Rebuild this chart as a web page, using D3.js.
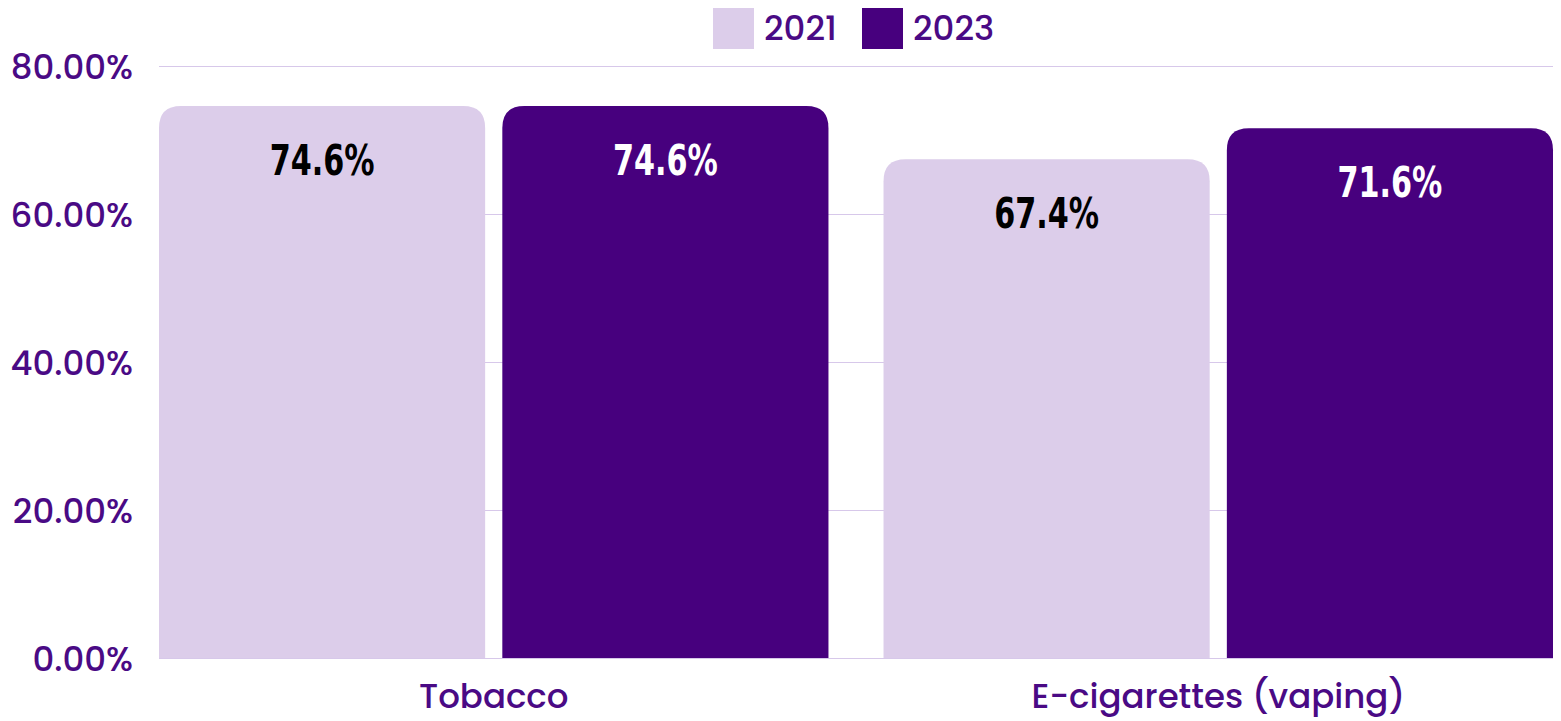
<!DOCTYPE html>
<html>
<head>
<meta charset="utf-8">
<script src="https://cdn.jsdelivr.net/npm/d3@7"></script>
<style>
  html, body { margin: 0; padding: 0; background: #ffffff; }
  svg { display: block; }
</style>
</head>
<body>
<svg id="chart" width="1561" height="721"></svg>
<script>
// Share of respondents, by product and survey year
const categories = ["Tobacco", "E-cigarettes (vaping)"];
const years = ["2021", "2023"];
const values2021 = [74.6, 67.4];
const values2023 = [74.6, 71.6];
const yTicks = [0, 20, 40, 60, 80];

const colors = { "2021": "#dccdea", "2023": "#47007e" };
const labelColors = { "2021": "#000000", "2023": "#ffffff" };
const textColor = "#4a0a85";
const gridColor = "#d7c8ea";
const uiFont = "Poppins, 'Noto Sans', sans-serif";

const W = 1561, H = 721;
const m = { left: 159, right: 8, top: 66, bottom: 63 };

const svg = d3.select("#chart");

const x0 = d3.scaleBand()
  .domain(categories)
  .range([m.left, W - m.right])
  .paddingInner(0.076)
  .paddingOuter(0);

const x1 = d3.scaleBand()
  .domain(years)
  .range([0, x0.bandwidth()])
  .paddingInner(0.05)
  .paddingOuter(0);

const y = d3.scaleLinear()
  .domain([0, 80])
  .range([H - m.bottom, m.top]);

// Gridlines
svg.append("g")
  .selectAll("line")
  .data(yTicks)
  .join("line")
  .attr("x1", m.left)
  .attr("x2", W - m.right)
  .attr("y1", d => y(d) + 0.5)
  .attr("y2", d => y(d) + 0.5)
  .attr("stroke", gridColor)
  .attr("stroke-width", 1);

// Y axis labels
const yAxis = d3.axisLeft(y)
  .tickValues(yTicks)
  .tickFormat(d => d3.format(".2f")(d) + "%")
  .tickSize(0)
  .tickPadding(26);

svg.append("g")
  .attr("transform", `translate(${m.left},0)`)
  .call(yAxis)
  .call(g => g.select(".domain").remove())
  .call(g => g.selectAll("text")
    .attr("fill", textColor)
    .attr("font-family", uiFont)
    .attr("font-weight", 500)
    .attr("font-size", 34)
    .attr("dy", "0.36em"));

// Bars with rounded top corners
const rows = categories.map((c, i) => ({
  category: c,
  bars: [
    { year: "2021", value: values2021[i] },
    { year: "2023", value: values2023[i] }
  ]
}));

function topRoundedRect(x, yTop, w, h, r) {
  r = Math.min(r, w / 2, h);
  return `M${x},${yTop + h}` +
    `V${yTop + r}` +
    `Q${x},${yTop} ${x + r},${yTop}` +
    `H${x + w - r}` +
    `Q${x + w},${yTop} ${x + w},${yTop + r}` +
    `V${yTop + h}Z`;
}

const groups = svg.append("g")
  .selectAll("g")
  .data(rows)
  .join("g")
  .attr("transform", d => `translate(${x0(d.category)},0)`);

groups.selectAll("path")
  .data(d => d.bars)
  .join("path")
  .attr("d", d => topRoundedRect(x1(d.year), y(d.value), x1.bandwidth(), y(0) - y(d.value), 22))
  .attr("fill", d => colors[d.year]);

// Value labels in a condensed bold face
const narrow = 0.72;
groups.selectAll("text.value")
  .data(d => d.bars)
  .join("text")
  .attr("class", "value")
  .attr("transform", d =>
    `translate(${x1(d.year) + x1.bandwidth() / 2},${y(d.value) + 69}) scale(${narrow},1)`)
  .attr("text-anchor", "middle")
  .attr("fill", d => labelColors[d.year])
  .attr("font-family", "'DejaVu Sans', sans-serif")
  .attr("font-weight", "bold")
  .attr("font-size", 42)
  .text(d => d.value.toFixed(1) + "%");

// Category labels
svg.append("g")
  .selectAll("text")
  .data(categories)
  .join("text")
  .attr("x", d => x0(d) + x0.bandwidth() / 2)
  .attr("y", 708)
  .attr("text-anchor", "middle")
  .attr("fill", textColor)
  .attr("font-family", uiFont)
  .attr("font-weight", 500)
  .attr("font-size", 34)
  .text(d => d);

// Legend
const legendItems = [
  { year: "2021", x: 713 },
  { year: "2023", x: 862 }
];
const legend = svg.append("g")
  .selectAll("g")
  .data(legendItems)
  .join("g")
  .attr("transform", d => `translate(${d.x},8)`);

legend.append("rect")
  .attr("width", 41)
  .attr("height", 41)
  .attr("fill", d => colors[d.year]);

legend.append("text")
  .attr("x", 51)
  .attr("y", 32)
  .attr("fill", textColor)
  .attr("font-family", uiFont)
  .attr("font-weight", 500)
  .attr("font-size", 34)
  .text(d => d.year);
</script>
</body>
</html>
